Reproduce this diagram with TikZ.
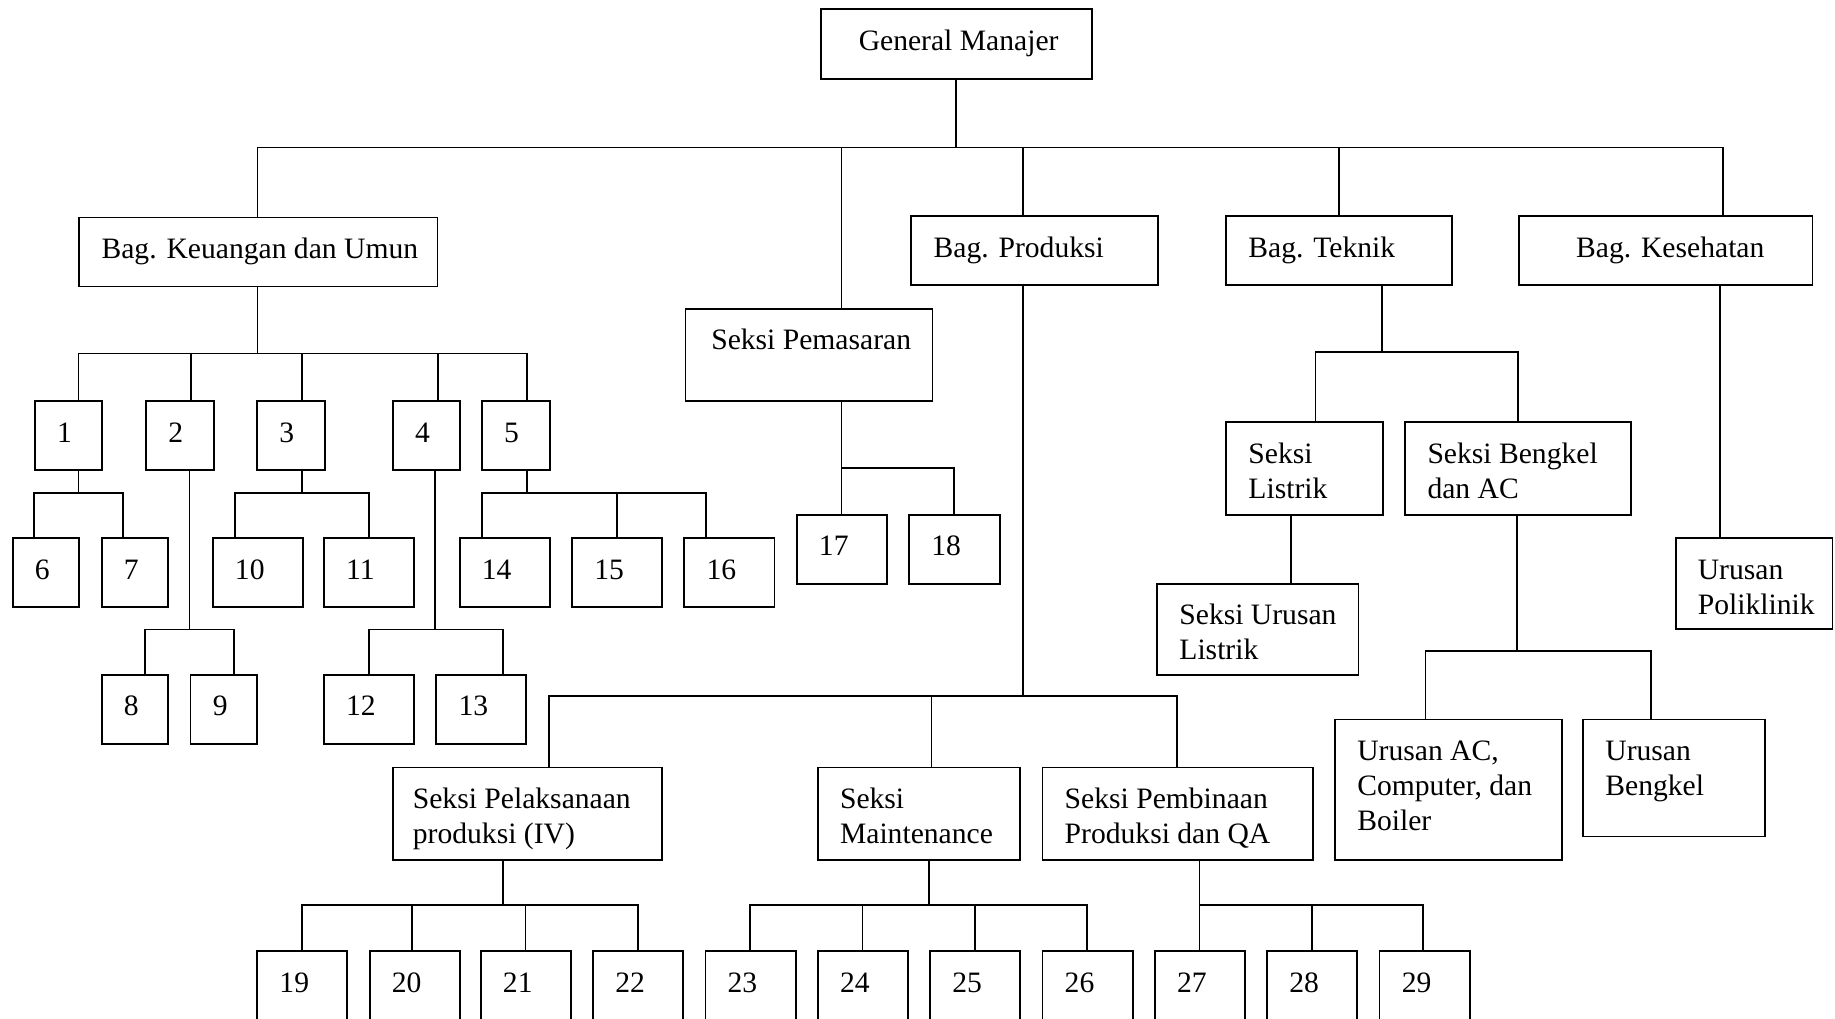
\documentclass[tikz,border=0pt]{standalone}
\usepackage{fontspec}
\setmainfont{Liberation Serif}
\usetikzlibrary{calc}

\tikzset{
  unitbox/.style={draw, line width=1.6pt, inner sep=0pt, anchor=north west,
    font=\fontsize{25.3}{30}\selectfont},
  wire/.style={line width=1.5pt},
}

% #1 name, #2 left, #3 top, #4 width, #5 height, #6 left padding, #7 text
\newcommand\orgbox[7]{%
  \node[unitbox] (#1) at (#2,#3)
    {\parbox[c][#5pt][t]{#4pt}{\leftskip=#6pt\rule{0pt}{35pt}#7}};}

% #1 parent, #2 drop x under parent, #3 bus y, #4 child, #5 drop x above child
\newcommand\linkto[5]{%
  \draw[wire] let \p1=(#1.south), \p2=(#4.north) in
    (#2pt,\y1) -- (#2pt,-#3pt) -- (#5pt,-#3pt) -- (#5pt,\y2);}

\begin{document}
\begin{tikzpicture}[x=1pt,y=-1pt]
\useasboundingbox (0,0) rectangle (1568,870);
\clip (0,0) rectangle (1568,870);
\fill[white] (0,0) rectangle (1568,870);

% top level
\orgbox{gm}{701}{7}{231}{60}{32}{General Manajer}
\orgbox{kb}{67}{185}{306}{59}{19}{Bag. Keuangan dan Umun}
\orgbox{pr}{778}{184}{211}{59}{19}{Bag. Produksi}
\orgbox{tk}{1047}{184}{193}{59}{19}{Bag. Teknik}
\orgbox{ks}{1297}{184}{251}{59}{49}{Bag. Kesehatan}
\orgbox{pm}{585}{263}{211}{79}{22}{Seksi Pemasaran}

% finance and general affairs units
\orgbox{n1}{29}{342}{57}{59}{19}{1}
\orgbox{n2}{124}{342}{58}{59}{19}{2}
\orgbox{n3}{219}{342}{58}{59}{19}{3}
\orgbox{n4}{335}{342}{57}{59}{19}{4}
\orgbox{n5}{411}{342}{58}{59}{19}{5}
\orgbox{n6}{10}{459}{57}{59}{19}{6}
\orgbox{n7}{86}{459}{57}{59}{19}{7}
\orgbox{n10}{181}{459}{77}{59}{19}{10}
\orgbox{n11}{276}{459}{77}{59}{19}{11}
\orgbox{n14}{392}{459}{77}{59}{19}{14}
\orgbox{n15}{488}{459}{77}{59}{19}{15}
\orgbox{n16}{584}{459}{77}{59}{19}{16}
\orgbox{n8}{86}{576}{57}{59}{19}{8}
\orgbox{n9}{162}{576}{57}{59}{19}{9}
\orgbox{n12}{276}{576}{77}{59}{19}{12}
\orgbox{n13}{372}{576}{77}{59}{19}{13}

% marketing units
\orgbox{n17}{680}{439}{77}{59}{19}{17}
\orgbox{n18}{776}{439}{78}{59}{19}{18}

% engineering and health
\orgbox{sl}{1047}{360}{134}{79}{19}{Seksi\\Listrik}
\orgbox{sb}{1200}{360}{193}{79}{19}{Seksi Bengkel\\dan AC}
\orgbox{ul}{988}{498}{172}{78}{19}{Seksi Urusan\\Listrik}
\orgbox{up}{1431}{459}{134}{78}{19}{Urusan\\Poliklinik}
\orgbox{ua}{1140}{614}{194}{120}{19}{Urusan AC,\\Computer, dan\\Boiler}
\orgbox{ub}{1352}{614}{155}{100}{19}{Urusan\\Bengkel}

% production sections
\orgbox{sp}{335}{655}{230}{79}{17}{Seksi Pelaksanaan\\produksi (IV)}
\orgbox{sm}{698}{655}{173}{79}{19}{Seksi\\Maintenance}
\orgbox{sq}{890}{655}{231}{79}{19}{Seksi Pembinaan\\Produksi dan QA}

% production units (bottom row)
\orgbox{n19}{219}{812}{77}{79}{19}{19}
\orgbox{n20}{315}{812}{77}{79}{19}{20}
\orgbox{n21}{410}{812}{77}{79}{19}{21}
\orgbox{n22}{506}{812}{77}{79}{19}{22}
\orgbox{n23}{602}{812}{77}{79}{19}{23}
\orgbox{n24}{698}{812}{77}{79}{19}{24}
\orgbox{n25}{794}{812}{77}{79}{19}{25}
\orgbox{n26}{890}{812}{77}{79}{19}{26}
\orgbox{n27}{986}{812}{77}{79}{19}{27}
\orgbox{n28}{1082}{812}{77}{79}{19}{28}
\orgbox{n29}{1178}{812}{77}{79}{19}{29}

% connectors
\linkto{gm}{817}{126}{kb}{220}
\linkto{gm}{817}{126}{pm}{719}
\linkto{gm}{817}{126}{pr}{874}
\linkto{gm}{817}{126}{tk}{1144}
\linkto{gm}{817}{126}{ks}{1472}

\linkto{kb}{220}{302}{n1}{67}
\linkto{kb}{220}{302}{n2}{163}
\linkto{kb}{220}{302}{n3}{258}
\linkto{kb}{220}{302}{n4}{374}
\linkto{kb}{220}{302}{n5}{450}

\linkto{n1}{67}{421}{n6}{29}
\linkto{n1}{67}{421}{n7}{105}
\linkto{n2}{162}{538}{n8}{124}
\linkto{n2}{162}{538}{n9}{200}
\linkto{n3}{258}{421}{n10}{201}
\linkto{n3}{258}{421}{n11}{315}
\linkto{n4}{372}{538}{n12}{315}
\linkto{n4}{372}{538}{n13}{430}
\linkto{n5}{450}{421}{n14}{412}
\linkto{n5}{450}{421}{n15}{527}
\linkto{n5}{450}{421}{n16}{603}

\linkto{pm}{719}{400}{n17}{719}
\linkto{pm}{719}{400}{n18}{815}

\linkto{pr}{874}{595}{sp}{469}
\linkto{pr}{874}{595}{sm}{796}
\linkto{pr}{874}{595}{sq}{1006}

\linkto{tk}{1181}{301}{sl}{1124}
\linkto{tk}{1181}{301}{sb}{1297}
\linkto{sl}{1103}{468}{ul}{1103}
\linkto{sb}{1296}{556}{ua}{1218}
\linkto{sb}{1296}{556}{ub}{1411}
\linkto{ks}{1470}{350}{up}{1470}

\linkto{sp}{430}{773}{n19}{258}
\linkto{sp}{430}{773}{n20}{352}
\linkto{sp}{430}{773}{n21}{449}
\linkto{sp}{430}{773}{n22}{545}
\linkto{sm}{794}{773}{n23}{641}
\linkto{sm}{794}{773}{n24}{737}
\linkto{sm}{794}{773}{n25}{833}
\linkto{sm}{794}{773}{n26}{929}
\linkto{sq}{1025}{773}{n27}{1025}
\linkto{sq}{1025}{773}{n28}{1121}
\linkto{sq}{1025}{773}{n29}{1216}
\end{tikzpicture}
\end{document}
